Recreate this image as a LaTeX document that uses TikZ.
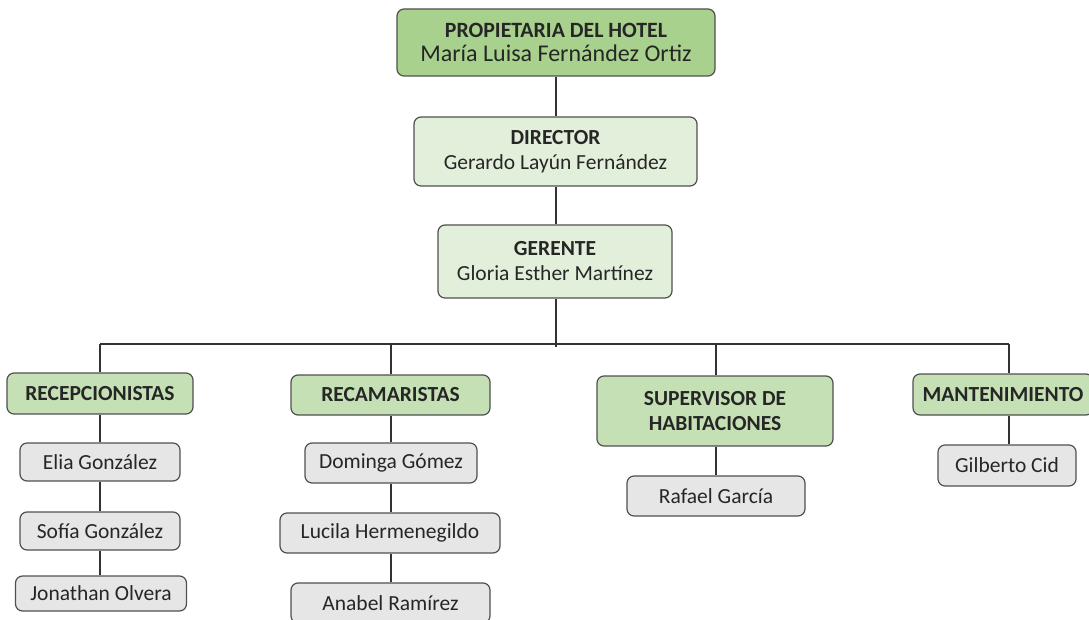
\documentclass[tikz,border=0pt]{standalone}
\usepackage{fontspec}
\setmainfont{Carlito}
\usetikzlibrary{calc}
\definecolor{topgreen}{RGB}{169,209,142}
\definecolor{lightgreen}{RGB}{226,239,218}
\definecolor{catgreen}{RGB}{197,224,180}
\definecolor{namegray}{RGB}{231,230,230}
\definecolor{edgegray}{RGB}{80,80,80}
\definecolor{linegray}{RGB}{50,50,50}
\definecolor{txt}{RGB}{38,38,38}
\tikzset{
  orgbox/.style={draw=edgegray, line width=1.2pt, rounded corners=7pt, align=center,
    inner sep=0pt, text=txt, font=\fontsize{21.5}{26}\selectfont},
  topbox/.style={orgbox, fill=topgreen},
  headbox/.style={orgbox, fill=lightgreen},
  catbox/.style={orgbox, fill=catgreen, font=\fontsize{21.5}{26}\selectfont\bfseries},
  namebox/.style={orgbox, fill=namegray},
  conn/.style={draw=linegray, line width=1.5pt}
}
\begin{document}
\begin{tikzpicture}[x=1pt,y=-1pt]
\useasboundingbox (0,0) rectangle (1089,620);
\clip (0,0) rectangle (1089,620);
% top levels
\node[topbox, minimum width=318pt, minimum height=67pt] (prop) at (556,42.5)
  {{\fontsize{21.8}{25}\selectfont\bfseries PROPIETARIA DEL HOTEL}\\[-2pt]{\fontsize{24}{26}\selectfont María Luisa Fernández Ortiz}};
\node[headbox, minimum width=283pt, minimum height=69pt] (dir) at (555.5,151.5)
  {\textbf{DIRECTOR}\\[-1pt]Gerardo Layún Fernández};
\node[headbox, minimum width=234pt, minimum height=73pt] (ger) at (555,261.5)
  {\textbf{GERENTE}\\[-1pt]Gloria Esther Martínez};
% categories
\node[catbox, minimum width=186pt, minimum height=41pt] (rec) at (100,393.5) {RECEPCIONISTAS};
\node[catbox, minimum width=199pt, minimum height=40pt] (recam) at (390.5,395) {RECAMARISTAS};
\node[catbox, minimum width=236pt, minimum height=70pt] (sup) at (715,411) {SUPERVISOR DE\\[-1pt]HABITACIONES};
\node[catbox, minimum width=180pt, minimum height=41pt] (mant) at (1003,394.5) {MANTENIMIENTO};
% names
\node[namebox, minimum width=160pt, minimum height=38pt] (elia) at (100,462) {Elia González};
\node[namebox, minimum width=160pt, minimum height=38pt] (sofia) at (100,531) {Sofía González};
\node[namebox, minimum width=171pt, minimum height=35pt] (jon) at (101,593.5) {Jonathan Olvera};
\node[namebox, minimum width=172pt, minimum height=40pt] (dom) at (391,463) {Dominga Gómez};
\node[namebox, minimum width=220pt, minimum height=40pt] (luc) at (390,533) {Lucila Hermenegildo};
\node[namebox, minimum width=199pt, minimum height=40pt] (anab) at (390.5,603) {Anabel Ramírez};
\node[namebox, minimum width=178pt, minimum height=40pt] (raf) at (716,496) {Rafael García};
\node[namebox, minimum width=138pt, minimum height=41pt] (gil) at (1007,465.5) {Gilberto Cid};
% bus coordinates
\coordinate (busL) at (100,344);
\coordinate (busR) at (1009,344);
\coordinate (gtail) at (556,347);
\coordinate (b2) at (391,344);
\coordinate (b3) at (716,344);
% connectors
\draw[conn] (prop.south -| 556,0) -- (dir.north -| 556,0);
\draw[conn] (dir.south -| 556,0) -- (ger.north -| 556,0);
\draw[conn] (ger.south -| gtail) -- (gtail);
\draw[conn] (busL) -- (busR);
\draw[conn] (busL) -- (rec.north -| busL);
\draw[conn] (b2) -- (recam.north -| b2);
\draw[conn] (b3) -- (sup.north -| b3);
\draw[conn] (busR) -- (mant.north -| busR);
\draw[conn] (rec.south -| busL) -- (elia.north -| busL);
\draw[conn] (elia.south -| busL) -- (sofia.north -| busL);
\draw[conn] (sofia.south -| busL) -- (jon.north -| busL);
\draw[conn] (recam.south -| b2) -- (dom.north -| b2);
\draw[conn] (dom.south -| b2) -- (luc.north -| b2);
\draw[conn] (luc.south -| b2) -- (anab.north -| b2);
\draw[conn] (sup.south -| b3) -- (raf.north -| b3);
\draw[conn] (mant.south -| busR) -- (gil.north -| busR);
\end{tikzpicture}
\end{document}
